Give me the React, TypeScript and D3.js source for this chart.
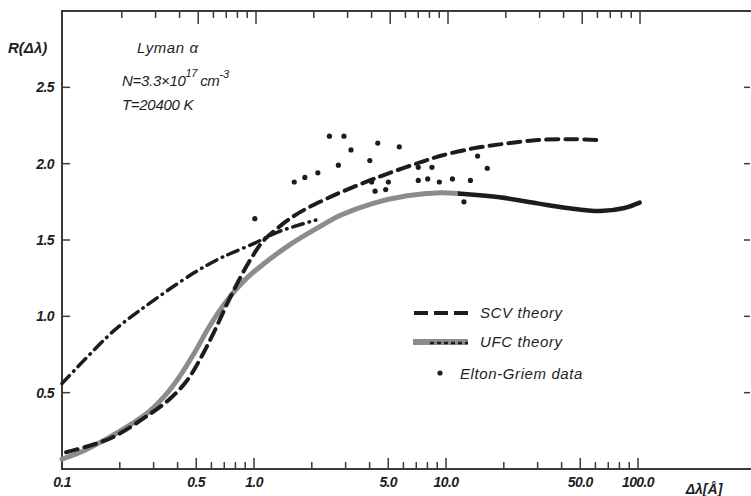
import React, { useEffect, useRef } from 'react';
import * as d3 from 'd3';

// SCV theory (dashed)
const scvX = [0.105, 0.178, 0.287, 0.365, 0.448, 0.535, 0.626, 0.723, 0.845, 0.978, 1.11, 1.29, 1.54, 1.84, 2.29, 2.8, 4.0, 5.1, 7.0, 9.3, 13.8, 20, 30, 45, 61];
const scvY = [0.11, 0.2, 0.36, 0.46, 0.58, 0.74, 0.91, 1.08, 1.25, 1.39, 1.49, 1.565, 1.64, 1.7, 1.76, 1.81, 1.89, 1.94, 2.0, 2.05, 2.1, 2.13, 2.155, 2.16, 2.155];

// UFC theory (solid)
const ufcX = [0.1, 0.13, 0.178, 0.234, 0.287, 0.344, 0.412, 0.494, 0.59, 0.72, 0.867, 1.04, 1.54, 2.29, 2.8, 4.17, 6.27, 9.3, 12.9, 19, 30, 42.7, 63.5, 85, 102];
const ufcY = [0.065, 0.12, 0.21, 0.3, 0.38, 0.48, 0.61, 0.77, 0.94, 1.1, 1.22, 1.31, 1.47, 1.6, 1.66, 1.74, 1.79, 1.81, 1.8, 1.78, 1.74, 1.71, 1.69, 1.71, 1.745];

// unlabelled dash-dot curve
const dashDotX = [0.1, 0.184, 0.255, 0.48, 0.665, 0.75, 1.01, 1.32, 1.73, 2.1];
const dashDotY = [0.56, 0.9, 1.04, 1.28, 1.38, 1.41, 1.48, 1.55, 1.6, 1.63];

// Elton-Griem data
const egX = [2.47, 2.94, 4.41, 5.71, 3.2, 4.01, 2.75, 2.15, 1.84, 1.62, 4.1, 5.01, 4.27, 4.85, 7.17, 8.45, 7.17, 8.03, 9.23, 10.8, 13.4, 14.6, 16.4, 12.4, 1.01];
const egY = [2.18, 2.18, 2.135, 2.11, 2.09, 2.02, 1.99, 1.94, 1.91, 1.88, 1.88, 1.88, 1.82, 1.83, 1.976, 1.976, 1.89, 1.9, 1.88, 1.9, 1.89, 2.05, 1.97, 1.75, 1.64];

const xMinorTicks = [0.2, 0.3, 0.4, 0.6, 0.7, 0.8, 0.9, 2, 3, 4, 6, 7, 8, 9, 20, 30, 40, 60, 70, 80, 90];
const xMajorTicks = [0.5, 1, 5, 10, 50, 100];
const xTickLabels = [0.1, 0.5, 1, 5, 10, 50, 100];
const yTicks = [0.5, 1.0, 1.5, 2.0, 2.5];

const FONT = "'Liberation Sans', Arial, sans-serif";

const App = () => {
    const svgRef = useRef(null);

    useEffect(() => {
        const width = 751;
        const height = 496;
        const svg = d3.select(svgRef.current);
        svg.selectAll('*').remove();
        svg.attr('width', width).attr('height', height);

        svg.append('rect').attr('width', width).attr('height', height).attr('fill', '#ffffff');

        const x = d3.scaleLog().domain([0.1, 383]).range([62, 750]);
        const y = d3.scaleLinear().domain([0, 3]).range([469, 11]);
        const fmt = d3.format('.1f');

        const axisColor = '#3a3a3a';

        // axes lines
        svg.append('line').attr('x1', 62).attr('x2', 751).attr('y1', y(0)).attr('y2', y(0))
            .attr('stroke', axisColor).attr('stroke-width', 2);
        svg.append('line').attr('x1', 62).attr('x2', 751).attr('y1', y(3)).attr('y2', y(3))
            .attr('stroke', axisColor).attr('stroke-width', 1.8);
        svg.append('line').attr('x1', x(0.1)).attr('x2', x(0.1)).attr('y1', y(3) - 1).attr('y2', y(0) + 1)
            .attr('stroke', axisColor).attr('stroke-width', 2);

        // ticks (inside)
        const ticks = svg.append('g').attr('stroke', axisColor).attr('stroke-width', 1.5);
        xMinorTicks.forEach(t => {
            ticks.append('line').attr('x1', x(t)).attr('x2', x(t)).attr('y1', y(0)).attr('y2', y(0) - 7);
            ticks.append('line').attr('x1', x(t) + 2).attr('x2', x(t) + 2).attr('y1', y(3)).attr('y2', y(3) + 7);
        });
        xMajorTicks.forEach(t => {
            ticks.append('line').attr('x1', x(t)).attr('x2', x(t)).attr('y1', y(0)).attr('y2', y(0) - 11);
            ticks.append('line').attr('x1', x(t) + 2).attr('x2', x(t) + 2).attr('y1', y(3)).attr('y2', y(3) + 13);
        });
        yTicks.forEach(t => {
            ticks.append('line').attr('x1', 62).attr('x2', 70).attr('y1', y(t)).attr('y2', y(t));
            ticks.append('line').attr('x1', 744).attr('x2', 750).attr('y1', y(t)).attr('y2', y(t));
        });

        // tick labels
        const labelStyle = (sel) => sel
            .attr('font-family', FONT)
            .attr('font-style', 'italic')
            .attr('font-weight', 'bold')
            .attr('font-size', 14)
            .attr('letter-spacing', -0.6)
            .attr('fill', '#1e1e1e');

        xTickLabels.forEach(t => {
            svg.append('text').call(labelStyle)
                .attr('x', x(t)).attr('y', 487).attr('text-anchor', 'middle')
                .text(fmt(t));
        });
        yTicks.forEach(t => {
            svg.append('text').call(labelStyle)
                .attr('x', 54).attr('y', y(t) + 5).attr('text-anchor', 'end')
                .text(fmt(t));
        });

        svg.append('text').call(labelStyle)
            .attr('x', 704).attr('y', 494).attr('text-anchor', 'middle')
            .attr('letter-spacing', 0)
            .text('Δλ[Å]');
        svg.append('text').call(labelStyle)
            .attr('x', 8).attr('y', 53)
            .attr('font-size', 15).attr('letter-spacing', 0)
            .text('R(Δλ)');

        // annotation
        const annStyle = (sel) => sel
            .attr('font-family', FONT)
            .attr('font-style', 'italic')
            .attr('font-size', 15)
            .attr('fill', '#1e1e1e');
        svg.append('text').call(annStyle).attr('x', 137).attr('y', 53).attr('letter-spacing', 0.6).text('Lyman α');
        const nText = svg.append('text').call(annStyle).attr('x', 122).attr('y', 86).attr('letter-spacing', -0.3);
        nText.append('tspan').text('N=3.3×10');
        nText.append('tspan').attr('dy', -9).attr('font-size', 11).text('17');
        nText.append('tspan').attr('dy', 9).attr('dx', 3).text('cm');
        nText.append('tspan').attr('dy', -8).attr('font-size', 11).text('-3');
        svg.append('text').call(annStyle).attr('x', 122).attr('y', 110).attr('letter-spacing', -0.3).text('T=20400 K');

        const toPts = (xs, ys) => xs.map((d, i) => [d, ys[i]]);
        const line = d3.line()
            .x(d => x(d[0]))
            .y(d => y(d[1]))
            .curve(d3.curveCatmullRom.alpha(0.5));

        // clip for the black part of UFC curve
        const defs = svg.append('defs');
        defs.append('clipPath').attr('id', 'ufc-black')
            .append('rect').attr('x', x(11.5)).attr('y', 0).attr('width', width).attr('height', height);
        defs.append('clipPath').attr('id', 'ufc-gray')
            .append('rect').attr('x', 0).attr('y', 0).attr('width', x(11.5)).attr('height', height);

        const ufc = toPts(ufcX, ufcY);
        svg.append('path').attr('d', line(ufc)).attr('fill', 'none')
            .attr('stroke', '#8c8c8c').attr('stroke-width', 5).attr('stroke-linecap', 'round')
            .attr('clip-path', 'url(#ufc-gray)');
        svg.append('path').attr('d', line(ufc)).attr('fill', 'none')
            .attr('stroke', '#1c1c1c').attr('stroke-width', 4.5).attr('stroke-linecap', 'round')
            .attr('clip-path', 'url(#ufc-black)');

        // dash-dot
        svg.append('path').attr('d', line(toPts(dashDotX, dashDotY))).attr('fill', 'none')
            .attr('stroke', '#1c1c1c').attr('stroke-width', 3.5)
            .attr('stroke-linecap', 'round')
            .attr('stroke-dasharray', '11,6,0.5,6');

        // SCV dashed
        svg.append('path').attr('d', line(toPts(scvX, scvY))).attr('fill', 'none')
            .attr('stroke', '#1c1c1c').attr('stroke-width', 4)
            .attr('stroke-linecap', 'round')
            .attr('stroke-dasharray', '12,7');

        // data points
        svg.append('g').selectAll('circle')
            .data(toPts(egX, egY))
            .enter()
            .append('circle')
            .attr('cx', d => x(d[0]))
            .attr('cy', d => y(d[1]))
            .attr('r', 2.6)
            .attr('fill', '#1c1c1c');

        // legend
        const legTextStyle = (sel) => sel
            .attr('font-family', FONT)
            .attr('font-style', 'italic')
            .attr('font-size', 15)
            .attr('letter-spacing', 0.6)
            .attr('fill', '#1e1e1e');

        svg.append('line').attr('x1', 414).attr('x2', 468).attr('y1', 313).attr('y2', 313)
            .attr('stroke', '#1c1c1c').attr('stroke-width', 4).attr('stroke-dasharray', '14,6');
        svg.append('text').call(legTextStyle).attr('x', 480).attr('y', 318).text('SCV theory');

        svg.append('line').attr('x1', 413).attr('x2', 468).attr('y1', 342).attr('y2', 342)
            .attr('stroke', '#8c8c8c').attr('stroke-width', 6);
        svg.append('line').attr('x1', 430).attr('x2', 468).attr('y1', 343).attr('y2', 343)
            .attr('stroke', '#1c1c1c').attr('stroke-width', 2.5).attr('stroke-dasharray', '4,3');
        svg.append('text').call(legTextStyle).attr('x', 480).attr('y', 347).text('UFC theory');

        svg.append('circle').attr('cx', 440).attr('cy', 373).attr('r', 2.6).attr('fill', '#1c1c1c');
        svg.append('text').call(legTextStyle).attr('x', 460).attr('y', 379).text('Elton-Griem data');
    }, []);

    return (
        <svg ref={svgRef} style={{ position: 'absolute', left: 0, top: 0, display: 'block' }}></svg>
    );
};

export default App;
